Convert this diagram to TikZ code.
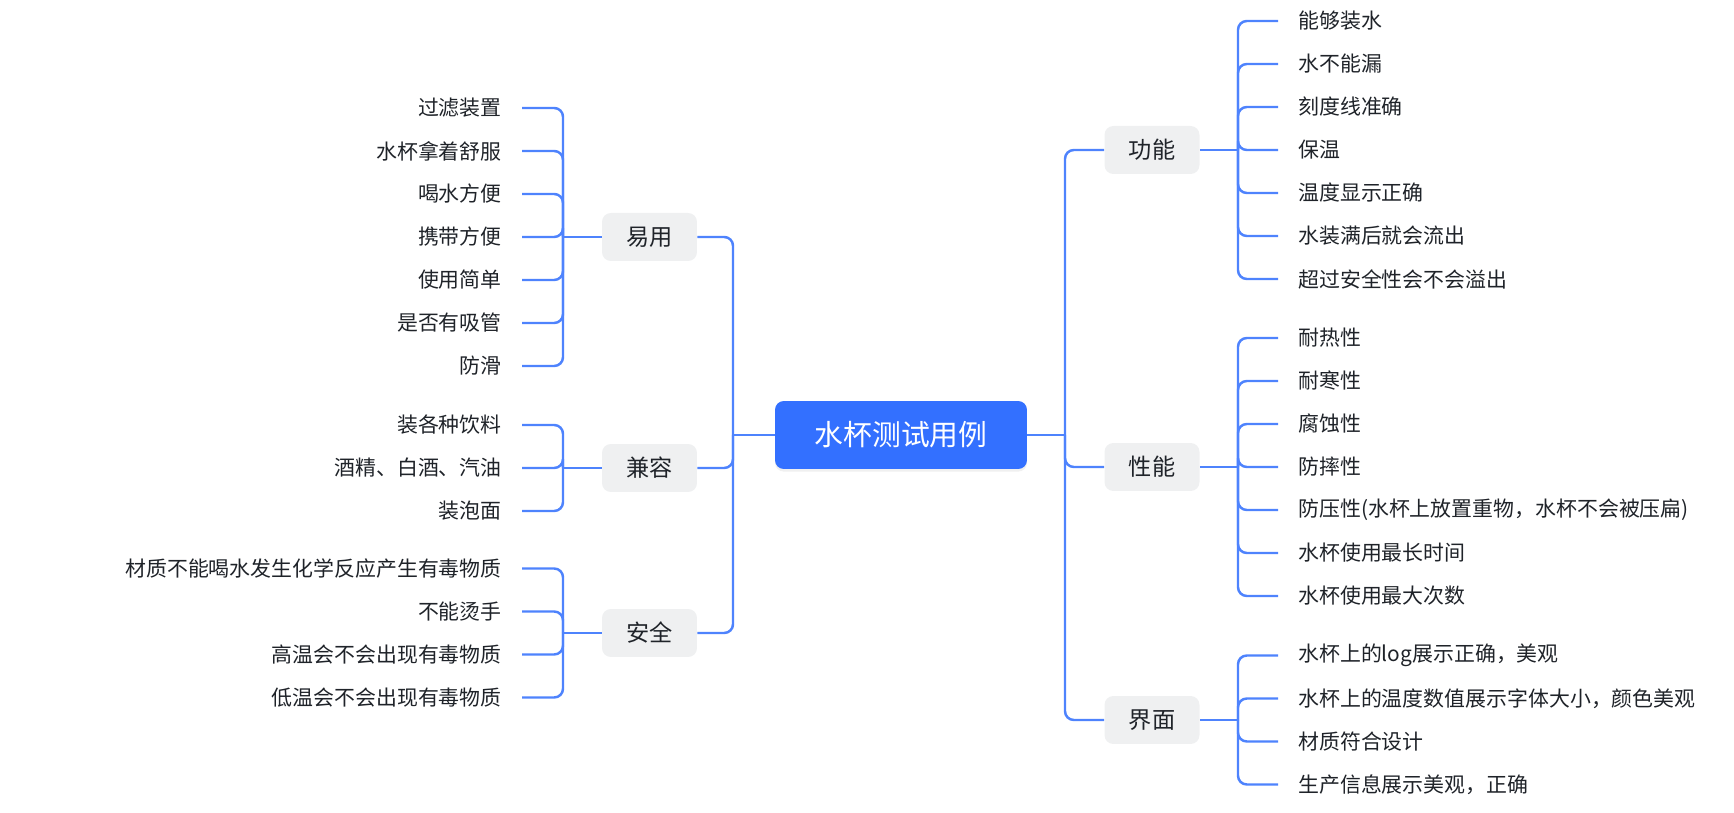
\documentclass[tikz,border=0pt]{standalone}
\usepackage{fontspec}
\newfontfamily\cjk{Noto Sans CJK SC}
\usetikzlibrary{shadows}

\definecolor{rootblue}{HTML}{3370FF}
\definecolor{linkblue}{HTML}{4E83FD}
\definecolor{topicgray}{HTML}{EFF0F1}
\definecolor{inkgray}{HTML}{1F2329}

\tikzset{
    root/.style={fill=rootblue, text=white, rounded corners=5pt,
        minimum width=5.04cm, minimum height=1.36cm,
        font=\cjk\fontsize{16.4}{19}\selectfont,
        drop shadow={opacity=0.12, shadow xshift=0pt, shadow yshift=-1.5pt}},
    topic/.style={fill=topicgray, text=inkgray, rounded corners=5pt,
        minimum width=1.9cm, minimum height=0.96cm,
        font=\cjk\fontsize{13.2}{16}\selectfont},
    leaf/.style={text=inkgray, inner xsep=0.4cm, inner ysep=0pt,
        font=\cjk\fontsize{11.9}{14}\selectfont},
    conn/.style={draw=linkblue, line width=1.4pt},
    elbow/.style={conn, rounded corners=5pt}
}

\begin{document}
\begin{tikzpicture}[x=0.02cm, y=-0.02cm]

    % Page frame
    \useasboundingbox (0,0) rectangle (1734,813);

    % Trunk positions
    \def\rtrunk{1065}
    \def\ltrunk{733}
    \def\rsub{1238}
    \def\lsub{563}
    \def\gap{43}

    % Central topic
    \node[root] (cup) at (901,435) {水杯测试用例};
    \coordinate (rj) at (\rtrunk,435);
    \coordinate (lj) at (\ltrunk,435);
    \draw[conn] (cup.east) -- (rj);
    \draw[conn] (cup.west) -- (lj);

    % Right side topics
    \node[topic] (func) at (1152,150) {功能};
    \node[topic] (perf) at (1152,467) {性能};
    \node[topic] (face) at (1152,720) {界面};
    \foreach \g in {func, perf, face} {
        \draw[elbow] (rj) |- (\g.west);
    }

    % Left side topics
    \node[topic] (easy) at (649.5,237) {易用};
    \node[topic] (comp) at (649.5,468) {兼容};
    \node[topic] (safe) at (649.5,633) {安全};
    \foreach \g in {easy, comp, safe} {
        \draw[elbow] (lj) |- (\g.east);
    }

    % Leaves of 功能
    \coordinate (funcj) at (\rsub,150);
    \draw[conn] (func.east) -- (funcj);
    \foreach \t [count=\i] in {能够装水, 水不能漏, 刻度线准确, 保温,
            温度显示正确, 水装满后就会流出, 超过安全性会不会溢出} {
        \node[leaf, anchor=west] (func\i) at (1278, {150+(\i-4)*\gap}) {\t};
        \draw[elbow] (funcj) |- (func\i.west);
    }

    % Leaves of 性能
    \coordinate (perfj) at (\rsub,467);
    \draw[conn] (perf.east) -- (perfj);
    \foreach \t [count=\i] in {耐热性, 耐寒性, 腐蚀性, 防摔性,
            防压性(水杯上放置重物，水杯不会被压扁), 水杯使用最长时间, 水杯使用最大次数} {
        \node[leaf, anchor=west] (perf\i) at (1278, {467+(\i-4)*\gap}) {\t};
        \draw[elbow] (perfj) |- (perf\i.west);
    }

    % Leaves of 界面
    \coordinate (facej) at (\rsub,720);
    \draw[conn] (face.east) -- (facej);
    \foreach \t [count=\i] in {水杯上的log展示正确，美观, 水杯上的温度数值展示字体大小，颜色美观,
            材质符合设计, 生产信息展示美观，正确} {
        \node[leaf, anchor=west] (face\i) at (1278, {720+(\i-2.5)*\gap}) {\t};
        \draw[elbow] (facej) |- (face\i.west);
    }

    % Leaves of 易用
    \coordinate (easyj) at (\lsub,237);
    \draw[conn] (easy.west) -- (easyj);
    \foreach \t [count=\i] in {过滤装置, 水杯拿着舒服, 喝水方便, 携带方便,
            使用简单, 是否有吸管, 防滑} {
        \node[leaf, anchor=east] (easy\i) at (522, {237+(\i-4)*\gap}) {\t};
        \draw[elbow] (easyj) |- (easy\i.east);
    }

    % Leaves of 兼容
    \coordinate (compj) at (\lsub,468);
    \draw[conn] (comp.west) -- (compj);
    \foreach \t [count=\i] in {装各种饮料, 酒精、白酒、汽油, 装泡面} {
        \node[leaf, anchor=east] (comp\i) at (522, {468+(\i-2)*\gap}) {\t};
        \draw[elbow] (compj) |- (comp\i.east);
    }

    % Leaves of 安全
    \coordinate (safej) at (\lsub,633);
    \draw[conn] (safe.west) -- (safej);
    \foreach \t [count=\i] in {材质不能喝水发生化学反应产生有毒物质, 不能烫手,
            高温会不会出现有毒物质, 低温会不会出现有毒物质} {
        \node[leaf, anchor=east] (safe\i) at (522, {633+(\i-2.5)*\gap}) {\t};
        \draw[elbow] (safej) |- (safe\i.east);
    }

\end{tikzpicture}
\end{document}
